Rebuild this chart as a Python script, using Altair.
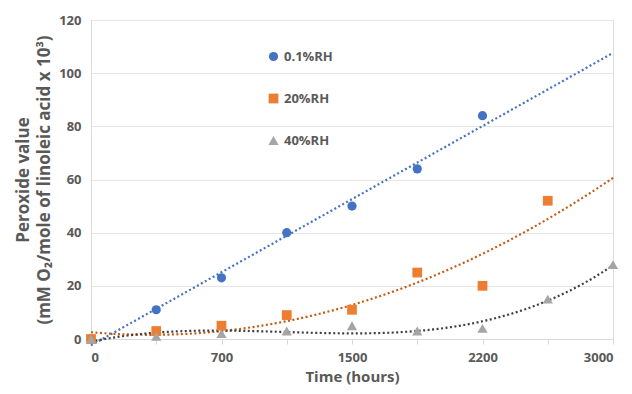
import altair as alt
import pandas as pd

# Category positions (Excel category axis, evenly spaced)
tick_index = [0, 1, 2, 3, 4, 5, 6, 7, 8]
tick_labels = ["0", "", "700", "", "1500", "", "2200", "", "3000"]

series_names = ["0.1%RH", "20%RH", "40%RH"]
blue_idx = [0, 1, 2, 3, 4, 5, 6]
blue_val = [0, 11, 23, 40, 50, 64, 84]
orange_idx = [0, 1, 2, 3, 4, 5, 6, 7]
orange_val = [0, 3, 5, 9, 11, 25, 20, 52]
gray_idx = [0, 1, 2, 3, 4, 5, 6, 7, 8]
gray_val = [0, 1, 2, 3, 5, 3, 4, 15, 28]

marker_colors = ["#4472C4", "#ED7D31", "#A5A5A5"]
marker_sizes = [85, 105, 250]
trend_colors = ["#4472C4", "#C55A11", "#3F3F3F"]

rows = []
for name, xs, ys in zip(series_names, [blue_idx, orange_idx, gray_idx], [blue_val, orange_val, gray_val]):
    for x, y in zip(xs, ys):
        rows.append({"idx": x, "value": y, "series": name})
df = pd.DataFrame(rows)

FONT = "Open Sans"
TXT = "#595959"
label_expr = "[" + ",".join('"%s"' % t for t in tick_labels) + "][datum.value]"

x_enc = alt.X(
    "idx:Q",
    scale=alt.Scale(domain=[0, 8], nice=False, zero=False),
    axis=alt.Axis(
        values=tick_index, labelExpr=label_expr, title="Time (hours)",
        grid=False, domainColor="#D9D9D9", tickColor="#D9D9D9", tickSize=5,
        labelFont=FONT, labelFontSize=13, labelFontWeight="bold", labelColor=TXT,
        labelPadding=7, titleFont=FONT, titleFontSize=15, titleFontWeight="bold",
        titleColor=TXT, titlePadding=5,
    ),
)
y_enc = alt.Y(
    "value:Q",
    scale=alt.Scale(domain=[0, 120], nice=False),
    axis=alt.Axis(
        values=[0, 20, 40, 60, 80, 100, 120],
        title=["Peroxide value", "(mM O\u2082/mole of linoleic acid x 10\u00b3)"],
        grid=True, gridColor="#E6E6E6", domainColor="#D9D9D9", ticks=False,
        labelFont=FONT, labelFontSize=13, labelFontWeight="bold", labelColor=TXT,
        labelPadding=10, titleFont=FONT, titleFontSize=17, titleFontWeight="bold",
        titleColor=TXT, titlePadding=5, titleLineHeight=21,
    ),
)

base = alt.Chart(df)

trend_specs = [
    (series_names[0], "linear", 1, trend_colors[0]),
    (series_names[1], "poly", 2, trend_colors[1]),
    (series_names[2], "poly", 3, trend_colors[2]),
]
trend_layers = []
for name, method, order, col in trend_specs:
    t = base.transform_filter(alt.datum.series == name).transform_regression(
        "idx", "value", method=method, order=order, extent=[0, 8]
    ).mark_line(color=col, strokeDash=[2, 2.5], strokeWidth=2.2, clip=False).encode(x=x_enc, y=y_enc)
    trend_layers.append(t)

legend_kw = dict(
    title=None, orient="none", legendX=176, legendY=30, rowPadding=28,
    labelFont=FONT, labelFontSize=13, labelFontWeight="bold", labelColor=TXT,
    symbolSize=75, symbolStrokeWidth=0, labelOffset=4,
)

points = base.mark_point(filled=True, opacity=1).encode(
    x=x_enc,
    y=y_enc,
    color=alt.Color("series:N", scale=alt.Scale(domain=series_names, range=marker_colors),
                    legend=alt.Legend(**legend_kw)),
    shape=alt.Shape("series:N", scale=alt.Scale(domain=series_names, range=["circle", "square", "triangle-up"]),
                    legend=alt.Legend(**legend_kw)),
    size=alt.Size("series:N", scale=alt.Scale(domain=series_names, range=marker_sizes), legend=None),
    order=alt.Order("series:N"),
)

chart = alt.layer(*trend_layers, points).properties(
    width=522, height=319,
    autosize=alt.AutoSizeParams(type="none"),
    padding={"left": 91, "top": 20, "right": 19, "bottom": 55},
).configure_view(stroke=None).configure(background="white")

chart.save("out.html", embed_options={"renderer": "svg", "actions": False})
